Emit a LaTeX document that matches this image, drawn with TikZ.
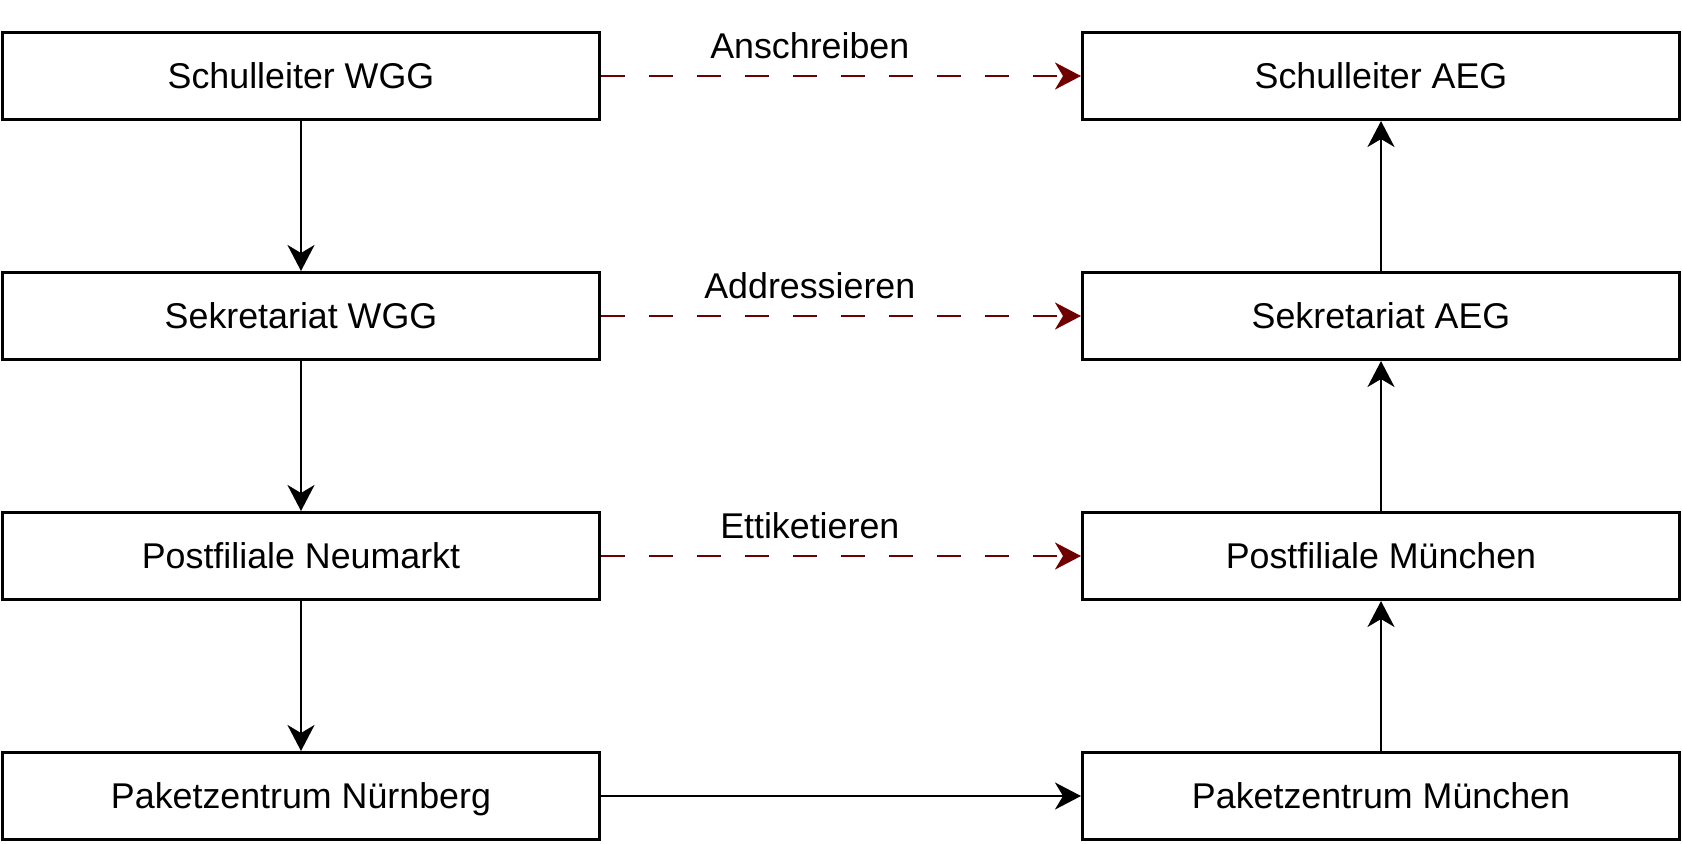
\documentclass[tikz,border=0pt]{standalone}
\usepackage{fontspec}
\setmainfont{Liberation Sans}
\usetikzlibrary{positioning}
\usetikzlibrary{arrows.meta}
\definecolor{darkred}{RGB}{111,0,0}

\begin{document}
\begin{tikzpicture}[x=0.5pt,y=-0.5pt,
 box/.style={draw,line width=1.3pt,minimum width=298.7pt,minimum height=43.7pt,inner sep=0pt,
  font=\fontsize{17.9}{21}\selectfont,text height=12.8pt,text depth=0pt},
 flow/.style={line width=1.2pt,-{Stealth[length=13pt,width=13.5pt,inset=4pt]}},
 link/.style={flow,darkred,dash pattern=on 12pt off 12pt},
 lbl/.style={font=\fontsize{17.9}{21}\selectfont,text height=12.8pt,text depth=0pt,inner sep=0pt,text=black,yshift=15.25pt,pos=0.435}]
 \useasboundingbox (0,0) rectangle (1683,843);
 \node[box] (sWGG) at (301,76) {Schulleiter WGG};
 \node[box,below=75pt of sWGG] (kWGG) {Sekretariat WGG};
 \node[box,below=75pt of kWGG] (pNeu) {Postfiliale Neumarkt};
 \node[box,below=75pt of pNeu] (zNue) {Paketzentrum Nürnberg};
 \node[box,right=240pt of sWGG] (sAEG) {Schulleiter AEG};
 \node[box,right=240pt of kWGG] (kAEG) {Sekretariat AEG};
 \node[box,right=240pt of pNeu] (pMue) {Postfiliale München};
 \node[box,right=240pt of zNue] (zMue) {Paketzentrum München};
 \draw[flow] (sWGG) -- (kWGG);
 \draw[flow] (kWGG) -- (pNeu);
 \draw[flow] (pNeu) -- (zNue);
 \draw[flow] (zNue) -- (zMue);
 \draw[flow] (zMue) -- (pMue);
 \draw[flow] (pMue) -- (kAEG);
 \draw[flow] (kAEG) -- (sAEG);
 \draw[link] (sWGG) -- (sAEG) node[lbl] (tAn) {Anschreiben};
 \draw[link] (kWGG) -- (kAEG) node[lbl] (tAd) {Addressieren};
 \draw[link] (pNeu) -- (pMue) node[lbl] (tEt) {Ettiketieren};
\end{tikzpicture}
\end{document}
